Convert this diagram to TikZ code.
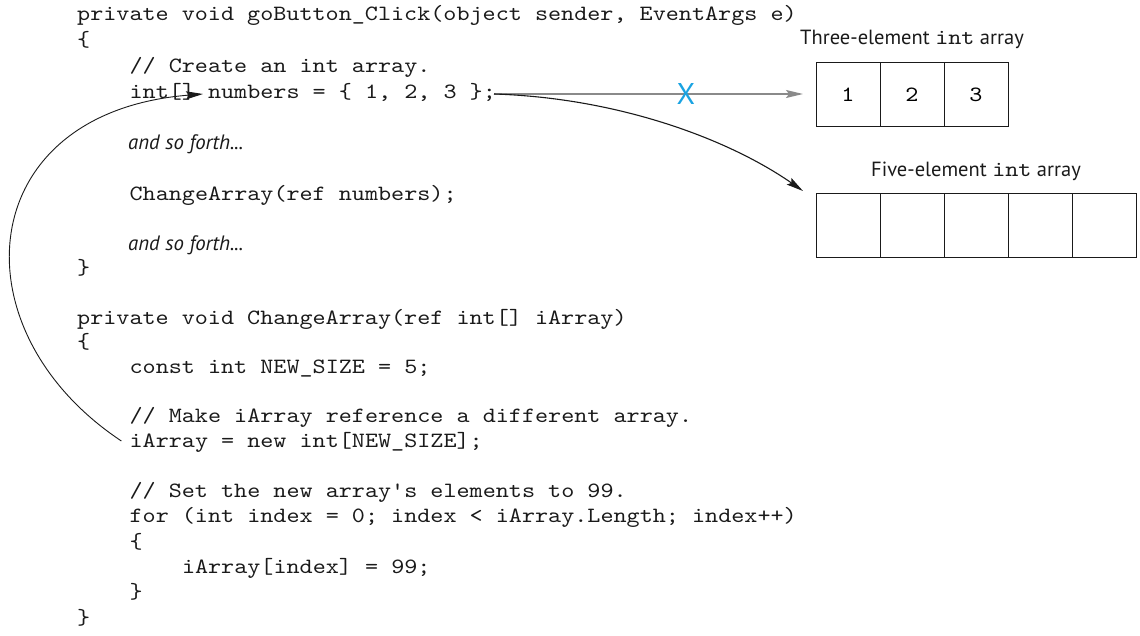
\documentclass[tikz,border=0pt]{standalone}
\usepackage{fontspec}
\setmainfont{PT Sans}
\newfontfamily\codefamily[FakeStretch=1.143]{lmmono10-regular.otf}
\usepackage{tikz}
\usetikzlibrary{arrows.meta}
\usetikzlibrary{positioning}
\definecolor{cd-text}{HTML}{1A1A1A}
\definecolor{cd-gray}{HTML}{8A8A8A}
\definecolor{cd-cross}{HTML}{1AA3E2}
\newcommand{\codefont}{\fontsize{21.8}{24}\selectfont\codefamily}
\tikzset{
  code/.style={anchor=base west, inner sep=0pt, text=cd-text, font=\codefont},
  prose/.style={anchor=base west, inner sep=0pt, text=cd-text, font=\fontsize{20.8}{24}\selectfont\itshape},
  cell/.style={draw=cd-text, line width=1pt, minimum width=64pt, minimum height=64pt, outer sep=0pt, inner sep=0pt, font=\codefont},
  caption/.style={anchor=base, inner sep=0pt, text=cd-text, font=\fontsize{20.5}{24}\selectfont},
  tip/.tip={Stealth[length=17pt, width=8pt, inset=3pt]}
}

\begin{document}
\begin{tikzpicture}[x=1pt, y=-1pt]
        \useasboundingbox (0,0) rectangle (1140,636);
        % code listing
        \node[code] (l1) at (77,21) {private void goButton\_Click(object sender, EventArgs e)};
        \node[code] (l2) at (77,46.7) {\{};
        \node[code] (l3) at (129.4,72.4) {// Create an int array.};
        \node[code] (l4) at (129.4,98.1) {int[] numbers = \{ 1, 2, 3 \};};
        \node[prose] (l5) at (128,150) {and so forth...};
        \node[code] (l6) at (129.4,201) {ChangeArray(ref numbers);};
        \node[prose] (l7) at (128,250.2) {and so forth...};
        \node[code] (l8) at (77,274.8) {\}};
        \node[code] (l9) at (77,324) {private void ChangeArray(ref int[] iArray)};
        \node[code] (l10) at (77,348.6) {\{};
        \node[code] (l11) at (129.4,373.2) {const int NEW\_SIZE = 5;};
        \node[code] (l12) at (129.4,422.4) {// Make iArray reference a different array.};
        \node[code] (l13) at (129.4,447) {iArray = new int[NEW\_SIZE];};
        \node[code] (l14) at (129.4,497.6) {// Set the new array's elements to 99.};
        \node[code] (l15) at (129.4,522.9) {for (int index = 0; index < iArray.Length; index++)};
        \node[code] (l16) at (129.4,548.2) {\{};
        \node[code] (l17) at (181.8,573.5) {iArray[index] = 99;};
        \node[code] (l18) at (129.4,598.8) {\}};
        \node[code] (l19) at (77,624) {\}};
        % arrays
        \node[cell] (t1) at (848,95) {1};
        \foreach \i/\v [count=\p from 1] in {2/2,3/3}
            \node[cell, right=0pt of t\p] (t\i) {\v};
        \node[caption] (tcap) at ([yshift=18pt]t2.north) {Three-element {\codefont int} array};
        \node[cell] (f1) at (848,226) {};
        \foreach \i [count=\p from 1] in {2,...,5}
            \node[cell, right=0pt of f\p] (f\i) {};
        \node[caption] (fcap) at ([yshift=17pt]f3.north) {Five-element {\codefont int} array};
        % references
        \coordinate (src) at (494,94);
        \coordinate (tip) at (203,94);
        \coordinate (back) at ([xshift=-8pt, yshift=6pt]l13.base west);
        \draw[cd-gray, line width=1.5pt, -tip] (src) -- ([xshift=-13pt]src -| t1.west)
            node[pos=0.621, text=cd-cross, font=\fontsize{30}{30}\selectfont] (cross) {X};
        \draw[cd-text, line width=1.1pt, -tip] (src) .. controls (620,98) and (730,140) .. ([xshift=-13pt, yshift=3pt]f1.north west);
        \draw[cd-text, line width=0.9pt, -tip] (back) .. controls (-46,330) and (-28,112) .. (tip);
    \end{tikzpicture}
\end{document}
